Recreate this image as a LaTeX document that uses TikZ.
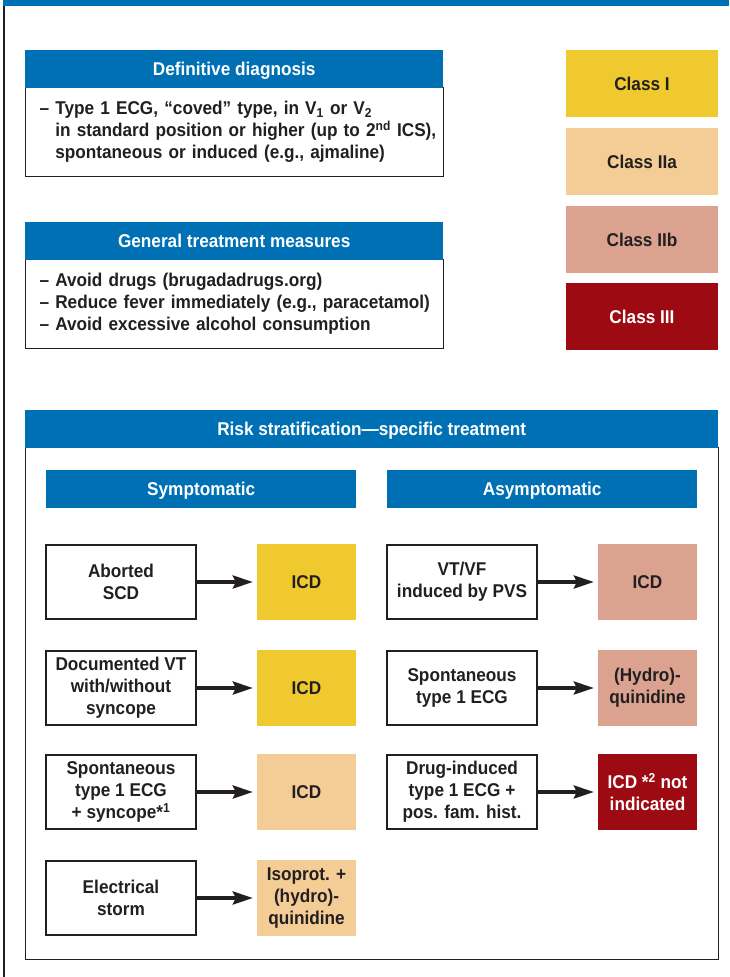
\documentclass[tikz,border=0pt]{standalone}
\usepackage{fontspec}
\setmainfont{Liberation Sans}[FakeStretch=0.93]
\usetikzlibrary{arrows.meta,positioning}

\definecolor{hdrblue}{RGB}{0,112,180}
\definecolor{inkdark}{RGB}{35,31,32}
\definecolor{clsI}{RGB}{240,201,47}
\definecolor{clsIIa}{RGB}{243,205,149}
\definecolor{clsIIb}{RGB}{219,163,143}
\definecolor{clsIII}{RGB}{158,10,18}

\def \txtSize {\bfseries\fontsize{18.5}{22}\selectfont}
\def \ind {\hspace*{14pt}}

\tikzset{
  hdr/.style={fill=hdrblue, text=white, inner sep=0pt, minimum height=38pt, text height=13pt, text depth=0pt, font=\txtSize},
  txtbox/.style={draw=inkdark, line width=1.2pt, fill=white, text=inkdark, inner sep=0pt, font=\txtSize},
  cause/.style={txtbox, minimum width=150pt, minimum height=74pt, align=center},
  result/.style={inner sep=0pt, minimum width=99pt, minimum height=76pt, align=center, text=inkdark, font=\txtSize},
  cls/.style={inner sep=0pt, minimum width=152pt, minimum height=67pt, text=inkdark, font=\txtSize},
  goes/.style={line width=3.5pt, draw=inkdark, -{Stealth[length=20pt,width=13pt,inset=3pt]}, shorten >=4pt}
}

\begin{document}
\begin{tikzpicture}[x=1pt, y=-1pt]
   \useasboundingbox (0,0) rectangle (729,977);

   % frame
   \fill[hdrblue] (3,0) rectangle (729,6);
   \draw[line width=2pt, inkdark] (4,6) -- (4,977);

   % diagnosis
   \node[txtbox, anchor=north west, minimum width=418pt, minimum height=89pt, text width=418pt, align=left] (diagbody) at (25,87) {%
      \ind-- Type 1 ECG, “coved” type, in V\textsubscript{1} or V\textsubscript{2}\\
      \ind\phantom{-- }in standard position or higher (up to 2\textsuperscript{nd} ICS),\\
      \ind\phantom{-- }spontaneous or induced (e.g., ajmaline)\\[8pt]};
   \node[hdr, anchor=north west, minimum width=418pt] (diag) at (25,50) {Definitive diagnosis};

   % general measures
   \node[txtbox, anchor=north west, minimum width=418pt, minimum height=89pt, text width=418pt, align=left] (genbody) at (25,259) {%
      \ind-- Avoid drugs (brugadadrugs.org)\\
      \ind-- Reduce fever immediately (e.g., paracetamol)\\
      \ind-- Avoid excessive alcohol consumption\\[3pt]};
   \node[hdr, anchor=north west, minimum width=418pt] (gen) at (25,222) {General treatment measures};

   % classes
   \node[cls, fill=clsI] (cI) at (642,83.5) {Class I};
   \node[cls, fill=clsIIa] (cIIa) at (642,161.5) {Class IIa};
   \node[cls, fill=clsIIb] (cIIb) at (642,239.5) {Class IIb};
   \node[cls, fill=clsIII, text=white] (cIII) at (642,316.5) {Class III};

   % risk stratification
   \node[txtbox, anchor=north west, minimum width=693pt, minimum height=512pt] (riskbody) at (25,447) {};
   \node[hdr, anchor=north west, minimum width=693pt] (risk) at (25,410) {Risk stratification---specific treatment};
   \node[hdr, anchor=north west, minimum width=310pt] (sym) at (46,470) {Symptomatic};
   \node[hdr, anchor=north west, minimum width=310pt] (asym) at (387,470) {Asymptomatic};

   % symptomatic
   \node[cause] (scd) at (121,582) {Aborted\\SCD};
   \node[result, fill=clsI] (icdA) at (306.5,582) {ICD};
   \node[cause] (docvt) at (121,688) {Documented VT\\with/without\\syncope};
   \node[result, fill=clsI] (icdB) at (306.5,688) {ICD};
   \node[cause] (spsyn) at (121,792) {Spontaneous\\type 1 ECG\\+ syncope*\textsuperscript{1}};
   \node[result, fill=clsIIa] (icdC) at (306.5,792) {ICD};
   \node[cause] (storm) at (121,898) {Electrical\\storm};
   \node[result, fill=clsIIa] (isop) at (306.5,898) {Isoprot. +\\(hydro)-\\quinidine};

   % asymptomatic
   \node[cause] (pvs) at (462,582) {VT/VF\\induced by PVS};
   \node[result, fill=clsIIb] (icdD) at (647.5,582) {ICD};
   \node[cause] (spont) at (462,688) {Spontaneous\\type 1 ECG};
   \node[result, fill=clsIIb] (quin) at (647.5,688) {(Hydro)-\\quinidine};
   \node[cause] (drug) at (462,792) {Drug-induced\\type 1 ECG +\\pos. fam. hist.};
   \node[result, fill=clsIII, text=white] (noicd) at (647.5,792) {ICD *\textsuperscript{2} not\\indicated};

   \draw[goes] (scd) -- (icdA);
   \draw[goes] (docvt) -- (icdB);
   \draw[goes] (spsyn) -- (icdC);
   \draw[goes] (storm) -- (isop);
   \draw[goes] (pvs) -- (icdD);
   \draw[goes] (spont) -- (quin);
   \draw[goes] (drug) -- (noicd);
\end{tikzpicture}
\end{document}
